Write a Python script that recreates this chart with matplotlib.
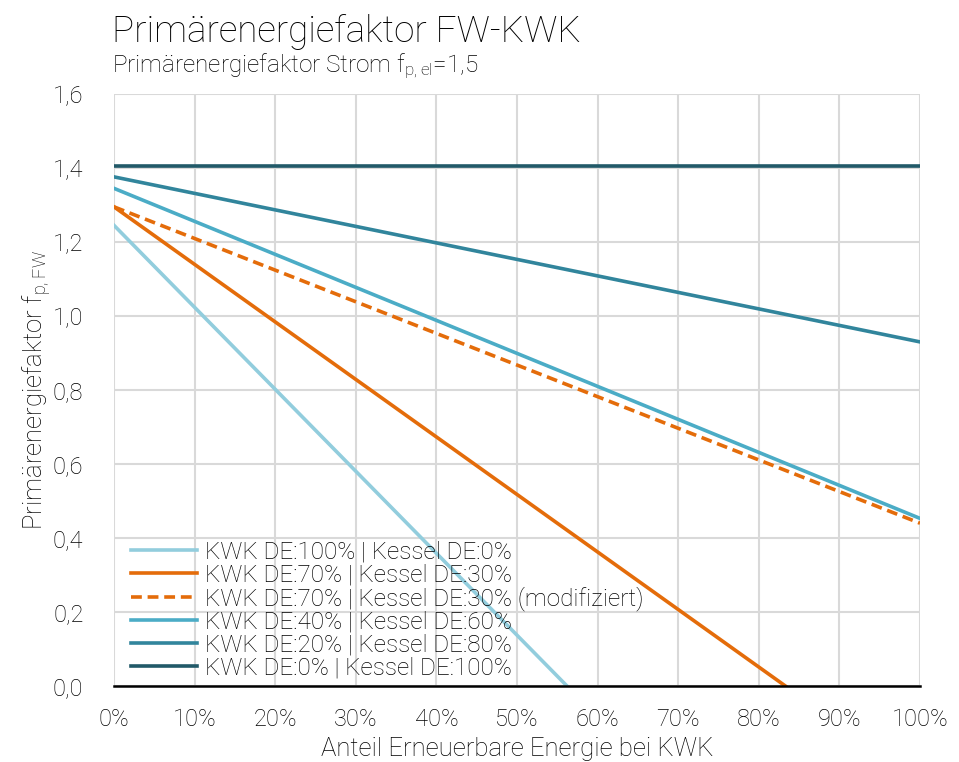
import numpy as np
import matplotlib.pyplot as plt
from matplotlib.ticker import FuncFormatter

plt.rcParams['font.family'] = ['Roboto', 'DejaVu Sans']
plt.rcParams['font.weight'] = 'light'
plt.rcParams['axes.labelweight'] = 'light'
plt.rcParams['mathtext.default'] = 'regular'

# Anteil erneuerbare Energie bei KWK (in %) und Primärenergiefaktor je Variante
labels = ['KWK DE:100% | Kessel DE:0%',
          'KWK DE:70% | Kessel DE:30%',
          'KWK DE:70% | Kessel DE:30% (modifiziert)',
          'KWK DE:40% | Kessel DE:60%',
          'KWK DE:20% | Kessel DE:80%',
          'KWK DE:0% | Kessel DE:100%']

x_kwk100 = [0, 56.2]
y_kwk100 = [1.245, 0.0]
x_kwk70 = [0, 83.3]
y_kwk70 = [1.295, 0.0]
x_kwk70_mod = [0, 100]
y_kwk70_mod = [1.295, 0.44]
x_kwk40 = [0, 100]
y_kwk40 = [1.345, 0.453]
x_kwk20 = [0, 100]
y_kwk20 = [1.376, 0.93]
x_kwk0 = [0, 100]
y_kwk0 = [1.405, 1.405]

farben = ['#92cddd', '#e46c0a', '#e46c0a', '#4bacc6', '#31859c', '#215968']
stile = ['-', '-', '--', '-', '-', '-']

fig = plt.figure(figsize=(9.59, 7.62), dpi=100)
ax = fig.add_axes([114/959, 1-686/762, 806/959, 592/762])

serien = [(x_kwk100, y_kwk100), (x_kwk70, y_kwk70), (x_kwk70_mod, y_kwk70_mod),
          (x_kwk40, y_kwk40), (x_kwk20, y_kwk20), (x_kwk0, y_kwk0)]
for (xs, ys), lab, c, ls in zip(serien, labels, farben, stile):
    ax.plot(xs, ys, color=c, ls=ls, lw=2.6, label=lab,
            dashes=(3, 1.6) if ls == '--' else (None, None), zorder=3)

ax.set_xlim(0, 100)
ax.set_ylim(0, 1.6)
ax.set_xticks(np.arange(0, 101, 10))
ax.set_yticks(np.arange(0, 1.61, 0.2))
ax.xaxis.set_major_formatter(FuncFormatter(lambda v, p: '%d%%' % round(v)))
ax.yaxis.set_major_formatter(FuncFormatter(lambda v, p: ('%.1f' % v).replace('.', ',')))
ax.grid(True, color='#d9d9d9', lw=1.5)
ax.set_axisbelow(True)
for s in ('top', 'right', 'left'):
    ax.spines[s].set_visible(False)
ax.spines['bottom'].set_color('#000000')
ax.spines['bottom'].set_linewidth(1.8)
ax.spines['bottom'].set_zorder(4)
ax.tick_params(length=0, labelsize=17, colors='#000000')
ax.tick_params(axis='x', pad=16)
ax.tick_params(axis='y', pad=22)

ax.set_xlabel('Anteil Erneuerbare Energie bei KWK', fontsize=18.5, labelpad=4)
ax.set_ylabel('Primärenergiefaktor f$_{p,FW}$', fontsize=18.5, labelpad=0)

fig.text(112/959, 1-42/762, 'Primärenergiefaktor FW-KWK', fontsize=26.5)
fig.text(112/959, 1-72/762, 'Primärenergiefaktor Strom f$_{p,el}$=1,5', fontsize=17.5)

leg = ax.legend(loc='upper left', bbox_to_anchor=(0.0, 0.275), frameon=False,
                fontsize=17.5, handlelength=2.7, handletextpad=0.35,
                labelspacing=0.0, borderaxespad=0.3)

plt.savefig('out.png', dpi=100)
